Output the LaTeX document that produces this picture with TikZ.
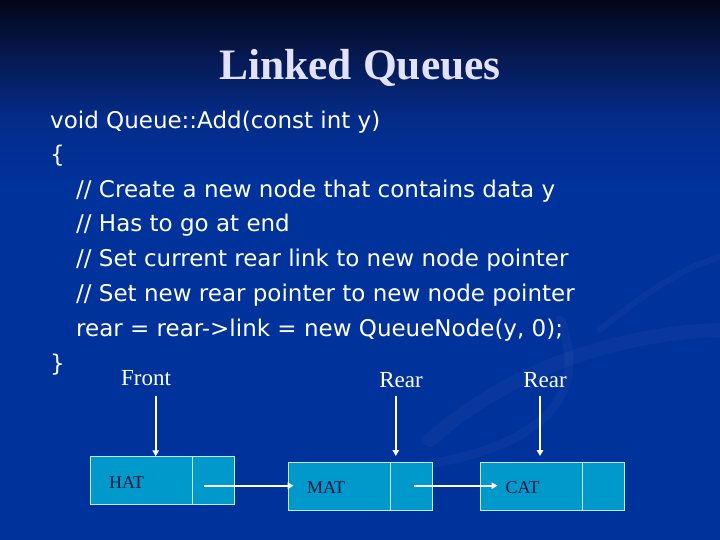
\documentclass[tikz,border=0pt]{standalone}
\usepackage{fontspec}
\setmainfont{Liberation Serif}
\newfontfamily\codefont{DejaVu Sans}
\usetikzlibrary{arrows.meta}
\definecolor{bgtop}{RGB}{2,6,24}
\definecolor{bgup}{RGB}{6,24,78}
\definecolor{bgmid}{RGB}{4,44,138}
\definecolor{bgbot}{RGB}{0,50,155}
\definecolor{titlecol}{RGB}{226,226,255}
\definecolor{cellfill}{RGB}{0,153,204}
\definecolor{celledge}{RGB}{200,230,250}
\definecolor{celltext}{RGB}{20,22,60}
\pgfdeclareverticalshading{slidebg}{100bp}{color(0bp)=(bgbot); color(25bp)=(bgbot); color(58bp)=(bgbot); color(64bp)=(bgmid); color(70bp)=(bgup); color(75bp)=(bgtop); color(100bp)=(bgtop)}
\tikzset{
  codeline/.style={anchor=base west, inner sep=0pt, text=white, font=\codefont\fontsize{23}{26}\selectfont},
  ptrlabel/.style={inner sep=0pt, text=white, font=\fontsize{23}{26}\selectfont},
  cell/.style={draw=celledge, line width=0.9pt, fill=cellfill, inner sep=0pt},
  celllabel/.style={anchor=west, inner sep=0pt, text=celltext, font=\fontsize{18}{20}\selectfont},
  ptr/.style={draw=white, line width=1.8pt, -{Triangle[length=6pt,width=6.5pt]}},
  swoosh/.style={draw=white, line cap=round, opacity=0.03}
}
\begin{document}
\begin{tikzpicture}[x=1pt,y=-1pt]
\useasboundingbox (0,0) rectangle (720,540);
\shade[shading=slidebg] (0,0) rectangle (720,540);
% faint background swooshes
\draw[swoosh, line width=14pt] (430,440) .. controls (520,360) and (640,330) .. (730,330);
\draw[swoosh, line width=9pt] (560,320) .. controls (600,420) and (500,460) .. (380,470);
\draw[swoosh, line width=6pt] (600,330) .. controls (660,280) and (700,260) .. (730,255);

\node[inner sep=0pt, text=titlecol, font=\bfseries\fontsize{43.5}{48}\selectfont] (title) at (360,68) {Linked Queues};

\node[codeline] (c1) at (50,128.5) {void Queue::Add(const int y)};
\node[codeline] (c2) at (50,162.5) {\{};
\node[codeline] (c3) at (76,197) {// Create a new node that contains data y};
\node[codeline] (c4) at (76,231.7) {// Has to go at end};
\node[codeline] (c5) at (76,266.7) {// Set current rear link to new node pointer};
\node[codeline] (c6) at (76,301.7) {// Set new rear pointer to new node pointer};
\node[codeline] (c7) at (76,336.7) {rear = rear->link = new QueueNode(y, 0);};
\node[codeline] (c8) at (50,371) {\}};

% cells
\node[cell, minimum width=102.2pt, minimum height=47.6pt] (hatd) at (141.7,480.5) {};
\node[cell, minimum width=42.1pt, minimum height=47.6pt] (hatl) at (213.85,480.5) {};
\node[cell, minimum width=101.8pt, minimum height=48pt] (matd) at (339.4,486.3) {};
\node[cell, minimum width=42.1pt, minimum height=48pt] (matl) at (411.55,486.3) {};
\node[cell, minimum width=101.8pt, minimum height=48pt] (catd) at (531.5,486.3) {};
\node[cell, minimum width=42.1pt, minimum height=48pt] (catl) at (603.45,486.3) {};

\node[celllabel] (hatt) at (109,483) {HAT};
\node[celllabel] (matt) at (307,488) {MAT};
\node[celllabel] (catt) at (505.5,488) {CAT};

% pointer labels
\node[ptrlabel] (front) at (146,378) {Front};
\node[ptrlabel] (rear1) at (401,380) {Rear};
\node[ptrlabel] (rear2) at (545,380) {Rear};

\coordinate (fs) at (155.7,395.7);
\coordinate (r1s) at (395.8,395.7);
\coordinate (r1e) at (395.8,456);
\coordinate (r2s) at (540,395.7);
\coordinate (r2e) at (540,456);
\draw[ptr] (fs) -- (fs |- hatd.north);
\draw[ptr] (r1s) -- (r1e);
\draw[ptr] (r2s) -- (r2e);

\coordinate (l1s) at (203.5,485.7);
\coordinate (l1e) at (293.5,485.7);
\coordinate (l2s) at (414.3,485.7);
\coordinate (l2e) at (497.5,485.7);
\draw[ptr] (l1s) -- (l1e);
\draw[ptr] (l2s) -- (l2e);
\end{tikzpicture}
\end{document}
